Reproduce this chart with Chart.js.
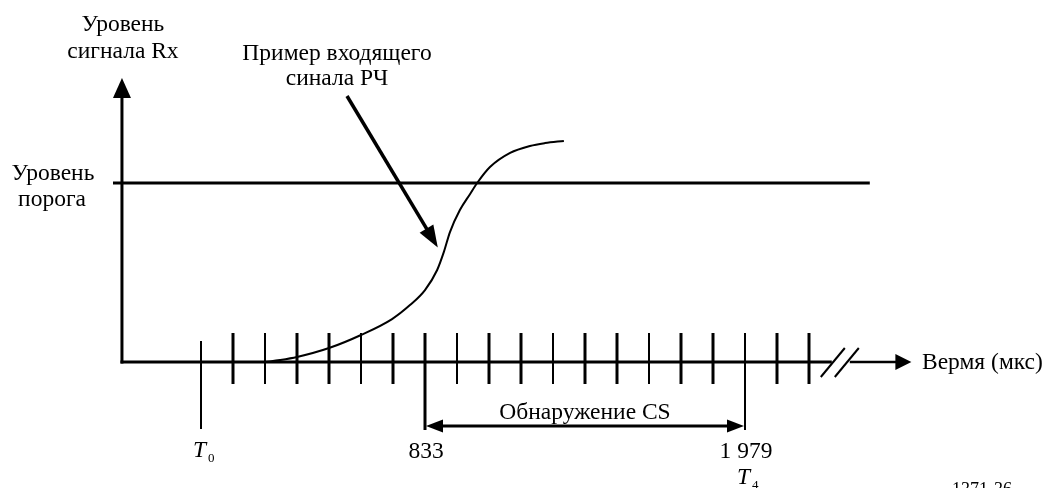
<!DOCTYPE html>
<html>
<head>
<meta charset="utf-8">
<script src="https://cdn.jsdelivr.net/npm/chart.js@4.4.1/dist/chart.umd.min.js"></script>
<style>
  html,body{margin:0;padding:0;background:#fff;overflow:hidden}
  canvas{display:block}
</style>
</head>
<body>
<canvas id="c" width="1046" height="488"></canvas>
<script>
// x: slot index on the time axis (T0 = 0), y: Rx level (threshold = 1)
const signalSlots  = [2.0, 2.47, 3.0, 4.0, 5.0, 5.97, 6.53, 7.0, 7.38, 7.59, 7.78, 8.09, 8.41, 8.63, 9.03, 9.66, 10.28, 10.75, 11.34];
const signalLevels = [0, 0.011, 0.028, 0.078, 0.151, 0.240, 0.318, 0.402, 0.514, 0.615, 0.726, 0.849, 0.939, 1.0, 1.089, 1.168, 1.207, 1.223, 1.235];
const thresholdLevel = 1;
const tickSlots = [1, 2, 3, 4, 5, 6, 7, 8, 9, 10, 11, 12, 13, 14, 15, 16, 17, 18, 19];
const valueSlots  = [7, 17];
const valueLabels = ['833', '1 979'];
const symbolSlots = [0, 17];
const symbolSubs  = ['0', '4'];
const csRange = [7, 17];

// layout (slot units / level units)
const yAxisSlot = -2.47, breakSlot = 19.4, arrowTipSlot = 22.2;
const thrStart = -2.75, thrEnd = 20.9;
const FONT = '"Liberation Serif", "Times New Roman", serif';
const FS = '23.5px ';

function arrowHead(ctx, x, y, ang, len, half) {
  ctx.save();
  ctx.translate(x, y); ctx.rotate(ang);
  ctx.beginPath();
  ctx.moveTo(0, 0); ctx.lineTo(-len, -half); ctx.lineTo(-len, half); ctx.closePath();
  ctx.fill();
  ctx.restore();
}

const schemePlugin = {
  id: 'scheme',
  afterDatasetsDraw(chart) {
    const ctx = chart.ctx, xs = chart.scales.x, ys = chart.scales.y;
    const X = v => xs.getPixelForValue(v), Y = v => ys.getPixelForValue(v);
    const base = Y(0);
    ctx.save();
    ctx.strokeStyle = '#000'; ctx.fillStyle = '#000'; ctx.lineCap = 'butt';

    // y axis with arrow
    const ax = X(yAxisSlot);
    ctx.lineWidth = 3;
    ctx.beginPath(); ctx.moveTo(ax, base + 1.5); ctx.lineTo(ax, 96); ctx.stroke();
    arrowHead(ctx, ax, 78, -Math.PI / 2, 20, 9);

    // x axis, break and arrow
    const brk = X(breakSlot);
    ctx.beginPath(); ctx.moveTo(ax - 1.5, base); ctx.lineTo(brk + 10, base); ctx.stroke();
    ctx.lineWidth = 2.5;
    ctx.beginPath(); ctx.moveTo(brk + 28, base); ctx.lineTo(X(arrowTipSlot) - 14, base); ctx.stroke();
    arrowHead(ctx, X(arrowTipSlot), base, 0, 16, 8);
    ctx.lineWidth = 2;
    [0, 14].forEach(d => {
      ctx.beginPath(); ctx.moveTo(brk - 1 + d, base + 15); ctx.lineTo(brk + 23 + d, base - 14); ctx.stroke();
    });

    // slot ticks
    tickSlots.forEach((s, i) => {
      const x = X(s);
      const marked = valueSlots.includes(s);
      ctx.lineWidth = (i % 3 === 1) ? 2 : 3;
      ctx.beginPath(); ctx.moveTo(x, base - 29); ctx.lineTo(x, marked ? base + 68 : base + 22); ctx.stroke();
    });
    // T0 line
    ctx.lineWidth = 2;
    ctx.beginPath(); ctx.moveTo(X(0), base - 21); ctx.lineTo(X(0), base + 67); ctx.stroke();

    // CS detection double arrow
    const cy = base + 64, c0 = X(csRange[0]), c1 = X(csRange[1]);
    ctx.lineWidth = 3;
    ctx.beginPath(); ctx.moveTo(c0 + 14, cy); ctx.lineTo(c1 - 14, cy); ctx.stroke();
    arrowHead(ctx, c0 + 1, cy, Math.PI, 17, 6.5);
    arrowHead(ctx, c1 - 1, cy, 0, 17, 6.5);

    // pointer arrow to the curve
    ctx.lineWidth = 3.5;
    const p0 = [347, 96], p1 = [X(7.4), Y(0.64)];
    const ang = Math.atan2(p1[1] - p0[1], p1[0] - p0[0]);
    ctx.beginPath(); ctx.moveTo(p0[0], p0[1]);
    ctx.lineTo(p1[0] - 16 * Math.cos(ang), p1[1] - 16 * Math.sin(ang)); ctx.stroke();
    arrowHead(ctx, p1[0], p1[1], ang, 22, 8);

    // texts
    ctx.font = FS + FONT;
    ctx.textBaseline = 'alphabetic';
    ctx.textAlign = 'center';
    ctx.fillText('Уровень', ax + 1, 31);
    ctx.fillText('сигнала Rx', ax + 1, 58);
    ctx.fillText('Уровень', 53, 180);
    ctx.fillText('порога', 52, 206);
    ctx.fillText('Пример входящего', 337, 60);
    ctx.fillText('синала РЧ', 337, 85);
    ctx.fillText('Обнаружение CS', (c0 + c1) / 2, 419);
    valueSlots.forEach((s, i) => ctx.fillText(valueLabels[i], X(s) + 1, 458));
    ctx.textAlign = 'left';
    ctx.fillText('Вермя (мкс)', 922, 369);

    // T symbols
    const symBase = [457, 484];
    symbolSlots.forEach((s, i) => {
      const x = X(s) - 8;
      ctx.font = 'italic ' + FS + FONT;
      ctx.fillText('T', x, symBase[i]);
      ctx.font = '13px ' + FONT;
      ctx.fillText(symbolSubs[i], x + 15, symBase[i] + 5);
    });

    ctx.font = '18px ' + FONT;
    ctx.fillText('1371-36', 952, 495);
    ctx.restore();
  }
};

new Chart(document.getElementById('c'), {
  type: 'line',
  data: {
    datasets: [
      {
        data: signalSlots.map((s, i) => ({ x: s, y: signalLevels[i] })),
        borderColor: '#000', borderWidth: 2, pointRadius: 0,
        cubicInterpolationMode: 'monotone'
      },
      {
        data: [{ x: thrStart, y: thresholdLevel }, { x: thrEnd, y: thresholdLevel }],
        borderColor: '#000', borderWidth: 3, pointRadius: 0
      }
    ]
  },
  options: {
    responsive: false,
    animation: false,
    devicePixelRatio: 1,
    layout: { padding: 0 },
    plugins: { legend: { display: false }, tooltip: { enabled: false } },
    scales: {
      x: { type: 'linear', display: false, min: -201 / 32, max: (1046 - 201) / 32 },
      y: { type: 'linear', display: false, min: (362 - 488) / 179, max: 362 / 179 }
    }
  },
  plugins: [schemePlugin]
});
</script>
</body>
</html>
